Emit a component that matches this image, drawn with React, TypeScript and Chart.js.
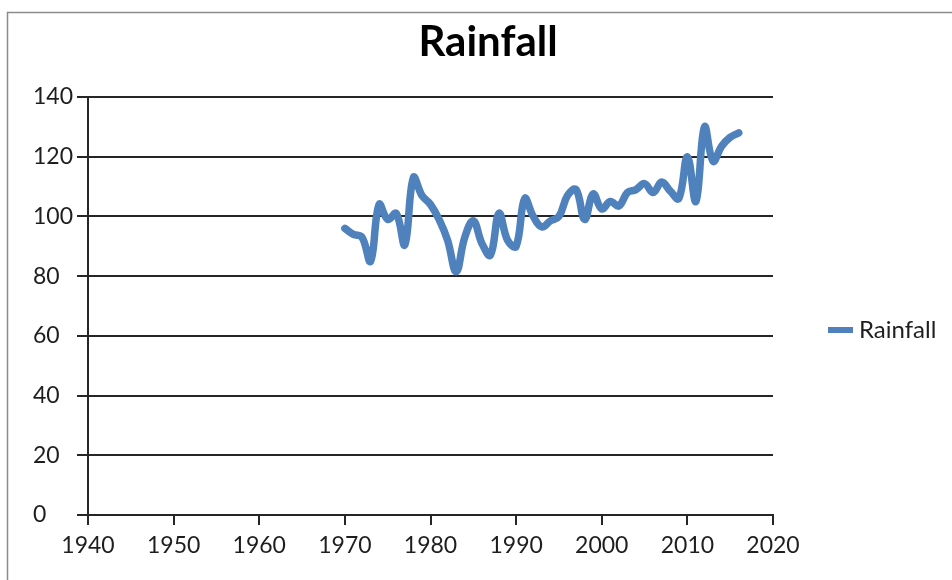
import React, { useEffect, useRef } from "react";
import { Chart, registerables } from "chart.js";

Chart.register(...registerables);

const chartTitle = "Rainfall";
const seriesName = "Rainfall";
const years = [
  1970, 1971, 1972, 1973, 1974, 1975, 1976, 1977, 1978, 1979,
  1980, 1981, 1982, 1983, 1984, 1985, 1986, 1987, 1988, 1989,
  1990, 1991, 1992, 1993, 1994, 1995, 1996, 1997, 1998, 1999,
  2000, 2001, 2002, 2003, 2004, 2005, 2006, 2007, 2008, 2009,
  2010, 2011, 2012, 2013, 2014, 2015, 2016,
];
const rainfall = [
  96, 94, 93, 85, 104, 99, 101, 90.5, 113, 107,
  104, 99, 92, 81.5, 93, 98.5, 91, 87, 101, 92,
  90, 106, 100, 96.5, 98.5, 100, 107, 109, 99, 107.5,
  102.5, 105, 103.5, 108, 109, 111, 108, 111.5, 108.5, 106,
  120, 105, 130, 118.5, 123.5, 126.5, 128,
];
const xMin = 1940;
const xMax = 2020;
const xStep = 10;
const yMin = 0;
const yMax = 140;
const yStep = 20;

const FONT = "Lato, 'Open Sans', sans-serif";
const LINE_COLOR = "#4F81BD";
const AXIS_COLOR = "#262626";
const TEXT_COLOR = "#1e1e1e";

const decorPlugin = {
  id: "decor",
  beforeDraw(chart: any) {
    const ctx = chart.ctx;
    ctx.save();
    ctx.fillStyle = "#ffffff";
    ctx.fillRect(0, 0, chart.width, chart.height);
    ctx.strokeStyle = "#8c8c8c";
    ctx.lineWidth = 1.5;
    ctx.beginPath();
    ctx.moveTo(7.5, chart.height + 5);
    ctx.lineTo(7.5, 12.5);
    ctx.lineTo(chart.width + 5, 12.5);
    ctx.stroke();
    ctx.restore();
  },
  afterDraw(chart: any) {
    const ctx = chart.ctx;
    ctx.save();
    // title
    ctx.fillStyle = "#000000";
    ctx.font = `bold 42px ${FONT}`;
    ctx.textAlign = "center";
    ctx.textBaseline = "middle";
    ctx.fillText(chartTitle, 488, 42);
    // legend
    ctx.strokeStyle = LINE_COLOR;
    ctx.lineWidth = 6;
    ctx.beginPath();
    ctx.moveTo(828, 330);
    ctx.lineTo(853, 330);
    ctx.stroke();
    ctx.fillStyle = TEXT_COLOR;
    ctx.font = `24px ${FONT}`;
    ctx.textAlign = "left";
    ctx.fillText(seriesName, 859, 330);
    ctx.restore();
  },
};

export default function App() {
  const canvasRef = useRef<HTMLCanvasElement | null>(null);

  useEffect(() => {
    if (!canvasRef.current) return;
    const points = years.map((yr, i) => ({ x: yr, y: rainfall[i] }));
    const chart = new Chart(canvasRef.current, {
      type: "line",
      data: {
        datasets: [
          {
            label: seriesName,
            data: points,
            borderColor: LINE_COLOR,
            backgroundColor: LINE_COLOR,
            borderWidth: 7.5,
            pointRadius: 0,
            tension: 0.4,
            borderCapStyle: "round",
            borderJoinStyle: "round",
          },
        ],
      },
      options: {
        responsive: false,
        animation: false,
        devicePixelRatio: 1,
        layout: { padding: { top: 97, right: 179, left: 33, bottom: 0 } },
        plugins: {
          legend: { display: false },
          title: { display: false },
          tooltip: { enabled: false },
        },
        scales: {
          x: {
            type: "linear",
            min: xMin,
            max: xMax,
            afterFit: (s: any) => {
              s.height = 65;
            },
            ticks: {
              stepSize: xStep,
              padding: 7,
              color: TEXT_COLOR,
              font: { family: FONT, size: 23 },
              maxRotation: 0,
              callback: (v: any) => String(v),
            },
            grid: {
              drawOnChartArea: false,
              drawTicks: true,
              tickLength: 10,
              color: AXIS_COLOR,
              lineWidth: 2,
            },
            border: { display: true, color: AXIS_COLOR, width: 2 },
          },
          y: {
            type: "linear",
            min: yMin,
            max: yMax,
            afterFit: (s: any) => {
              s.width = 55;
            },
            ticks: {
              stepSize: yStep,
              crossAlign: "far",
              color: TEXT_COLOR,
              font: { family: FONT, size: 23 },
              callback: (v: any) => String(v),
            },
            grid: {
              drawOnChartArea: true,
              drawTicks: true,
              tickLength: 11,
              color: AXIS_COLOR,
              lineWidth: 2,
            },
            border: { display: true, color: AXIS_COLOR, width: 2 },
          },
        },
      },
      plugins: [decorPlugin],
    });
    return () => chart.destroy();
  }, []);

  return (
    <div style={{ position: "fixed", left: 0, top: 0, width: 952, height: 580, background: "#fff" }}>
      <canvas ref={canvasRef} width={952} height={580} style={{ display: "block" }} />
    </div>
  );
}
